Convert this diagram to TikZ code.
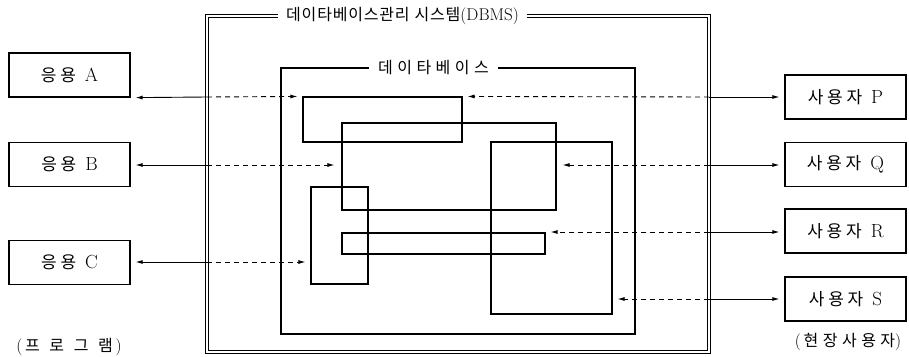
\documentclass[tikz,border=0pt]{standalone}
\usepackage{fontspec}
\usetikzlibrary{arrows.meta,fit}
\newfontfamily\kr{Noto Sans CJK KR}[LetterSpace=22]
\newfontfamily\krd{Noto Sans CJK KR}[LetterSpace=28]
\newfontfamily\krt{Noto Sans CJK KR}[LetterSpace=5]
\newfontfamily\krw{Noto Sans CJK KR}[LetterSpace=60]
\newcommand{\bl}[2]{{\kr #1}\hspace{9pt}#2}
\begin{document}
\begin{tikzpicture}[x=1pt,y=-1pt,
  box/.style={draw, line width=1.2pt, minimum width=121pt, minimum height=44pt, inner sep=0pt,
    font=\fontsize{19}{21}\selectfont},
  rect/.style={draw, line width=1.1pt, inner sep=0pt},
  solidarr/.style={line width=0.9pt, -{Latex[length=7pt,width=4pt]}},
  dasharr/.style={line width=0.9pt, dash pattern=on 5pt off 4pt, -{Latex[length=7pt,width=4pt]}},
  dbl/.style={draw, line width=0.7pt, double, double distance=2.2pt},
  dbframe/.style={draw, line width=1.5pt},
  title/.style={font=\fontsize{17}{19}\selectfont, inner xsep=8pt, inner ysep=0pt},
  note/.style={font=\fontsize{17}{19}\selectfont, inner sep=0pt}
]
\useasboundingbox (0,0) rectangle (909,356);

% application boxes
\node[box] (A) at (69.5,75) {\bl{\fontsize{17}{19}\selectfont 응용}{A}};
\node[box] (B) at (69.5,164.5) {\bl{\fontsize{17}{19}\selectfont 응용}{B}};
\node[box] (C) at (69.5,262.5) {\bl{\fontsize{17}{19}\selectfont 응용}{C}};

% user boxes
\node[box] (P) at (845.5,97) {\bl{\fontsize{17}{19}\selectfont 사용자}{P}};
\node[box] (Q) at (845.5,164.5) {\bl{\fontsize{17}{19}\selectfont 사용자}{Q}};
\node[box] (R) at (845.5,231) {\bl{\fontsize{17}{19}\selectfont 사용자}{R}};
\node[box] (S) at (845.5,299) {\bl{\fontsize{17}{19}\selectfont 사용자}{S}};

% DBMS frame
\node[title] (dbms) at (402.5,16) {{\krt\fontsize{16}{18}\selectfont 데이타베이스관리}\ {\krt\fontsize{16}{18}\selectfont 시스템}(DBMS)};
\draw[dbl] (dbms.west) -- (207,16) -- (207,352) -- (709,352) -- (709,16) -- (dbms.east);

% database frame
\node[title, inner xsep=9pt] (dbn) at (433.5,68) {\krd\fontsize{16}{18}\selectfont 데이타베이스};
\draw[dbframe] (dbn.west) -- (281,68) -- (281,334) -- (635,334) -- (635,68) -- (dbn.east);

% data rectangles
\node[rect, fit={(303,97) (462,142)}] (r1) {};
\node[rect, fit={(342,123) (556,210)}] (r2) {};
\node[rect, fit={(491,142) (612,314)}] (r3) {};
\node[rect, fit={(311,187) (368,284)}] (r4) {};
\node[rect, fit={(342,233) (545,254)}] (r5) {};

% left connectors
\coordinate (la) at (207,97);
\coordinate (lb) at (207,165);
\coordinate (lc) at (207,262);
\draw[solidarr] (la) -- ([xshift=5pt]A.south east);
\draw[dasharr] (la) -- ([xshift=-5pt]r1.north west);
\draw[solidarr] (lb) -- ([xshift=5pt]B.east |- lb);
\draw[dasharr] (lb) -- ([xshift=-7pt]r2.west |- lb);
\draw[solidarr] (lc) -- ([xshift=5pt]C.east |- lc);
\draw[dasharr] (lc) -- ([xshift=-5pt]r4.west |- lc);

% right connectors
\coordinate (rp) at (709,97);
\coordinate (rq) at (709,165);
\coordinate (rr) at (709,232);
\coordinate (rs) at (709,299);
\draw[solidarr] (rp) -- ([xshift=-5pt]P.west |- rp);
\draw[dasharr] (rp) -- ([xshift=5pt]r1.north east);
\draw[solidarr] (rq) -- ([xshift=-5pt]Q.west |- rq);
\draw[dasharr] (rq) -- ([xshift=6pt]r2.east |- rq);
\draw[solidarr] (rr) -- ([xshift=-5pt]R.west |- rr);
\draw[dasharr] (rr) -- ([xshift=5pt]r5.east |- rr);
\draw[solidarr] (rs) -- ([xshift=-5pt]S.west |- rs);
\draw[dasharr] (rs) -- ([xshift=5pt]r3.east |- rs);

% group notes
\node[note] (prog) at (69,347) {(\,{\krw\fontsize{16}{18}\selectfont 프로그램}\,)};
\node[note] (field) at (848,342) {(\,{\krd\fontsize{16}{18}\selectfont 현장사용자})};
\end{tikzpicture}
\end{document}
